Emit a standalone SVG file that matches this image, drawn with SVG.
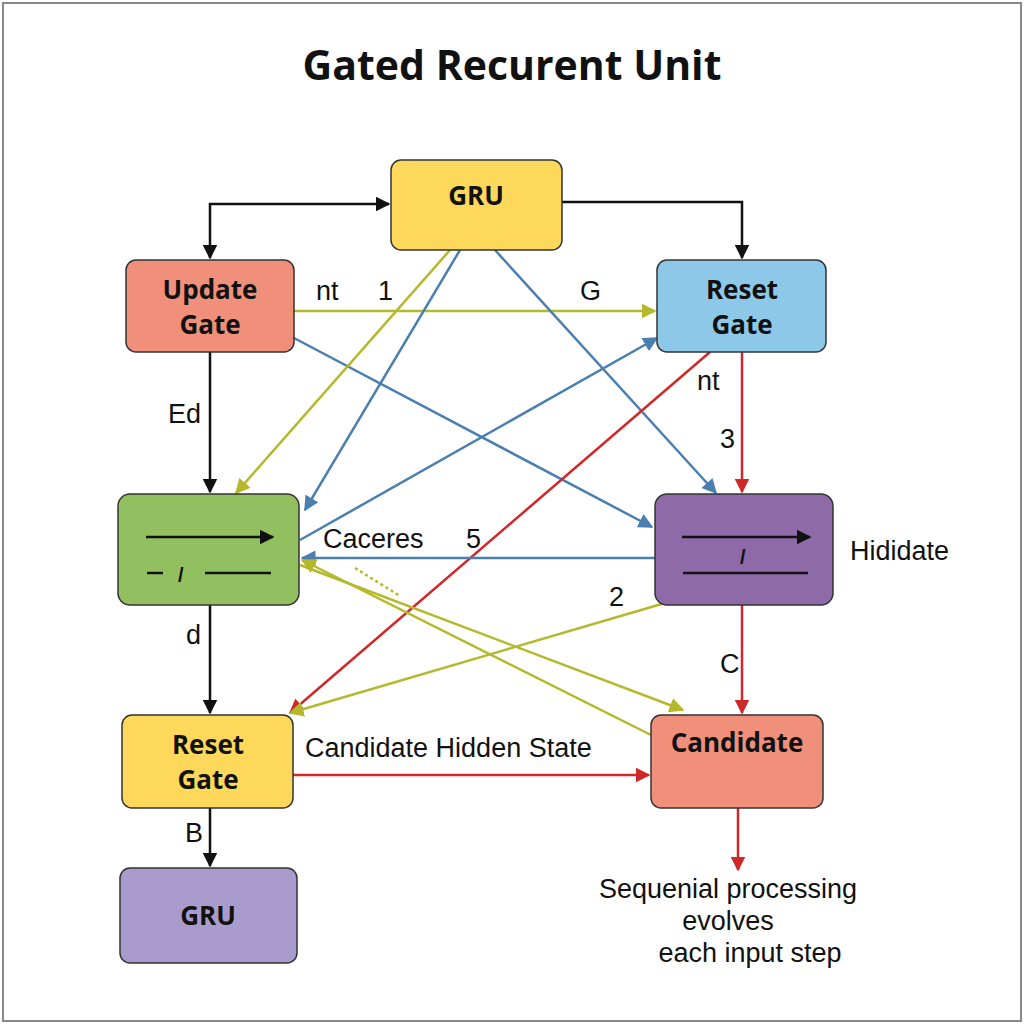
<svg xmlns="http://www.w3.org/2000/svg" width="1024" height="1024" viewBox="0 0 1024 1024">
<style>
.n{stroke:#333;stroke-width:1.5}
.t{font-family:"Open Sans","Liberation Sans",sans-serif;font-weight:bold;font-size:26px;text-anchor:middle;fill:#111}
.l{font-family:"Liberation Sans","Open Sans",sans-serif;font-size:27px;fill:#111}
.k{stroke:#111;stroke-width:2.5;fill:none}
.y{stroke:#B5B82A;stroke-width:2.5;fill:none}
.b{stroke:#4A7FB0;stroke-width:2.5;fill:none}
.r{stroke:#D02828;stroke-width:2.5;fill:none}
</style>
<defs>
<marker id="ak" viewBox="0 0 10 10" refX="9" refY="5" markerWidth="6" markerHeight="6" orient="auto-start-reverse"><path d="M0,0L10,5L0,10z" fill="#111"/></marker>
<marker id="ay" viewBox="0 0 10 10" refX="9" refY="5" markerWidth="6" markerHeight="6" orient="auto-start-reverse"><path d="M0,0L10,5L0,10z" fill="#B5B82A"/></marker>
<marker id="ab" viewBox="0 0 10 10" refX="9" refY="5" markerWidth="6" markerHeight="6" orient="auto-start-reverse"><path d="M0,0L10,5L0,10z" fill="#4A7FB0"/></marker>
<marker id="ar" viewBox="0 0 10 10" refX="9" refY="5" markerWidth="6" markerHeight="6" orient="auto-start-reverse"><path d="M0,0L10,5L0,10z" fill="#D02828"/></marker>
</defs>
<rect x="0" y="0" width="1024" height="1024" fill="#fff"/>
<rect x="3" y="3" width="1018" height="1018" fill="none" stroke="#888" stroke-width="2"/>
<text x="512" y="80" class="t" style="font-size:41px">Gated Recurent Unit</text>
<g id="connectors">
<polyline class="k" points="210,258 210,204 389,204" marker-start="url(#ak)" marker-end="url(#ak)"/>
<polyline class="k" points="562,202 742,202 742,258" marker-end="url(#ak)"/>
<line class="k" x1="210" y1="352" x2="210" y2="492" marker-end="url(#ak)"/>
<line class="k" x1="210" y1="605" x2="210" y2="713" marker-end="url(#ak)"/>
<line class="k" x1="210" y1="808" x2="210" y2="866" marker-end="url(#ak)"/>
<line class="y" x1="294" y1="311" x2="655" y2="311" marker-end="url(#ay)"/>
<line class="b" x1="294" y1="338" x2="652" y2="527" marker-end="url(#ab)"/>
<line class="y" x1="450" y1="250" x2="236" y2="493" marker-end="url(#ay)"/>
<line class="b" x1="460" y1="250" x2="305" y2="510" marker-end="url(#ab)"/>
<line class="b" x1="495" y1="250" x2="716" y2="493" marker-end="url(#ab)"/>
<line class="b" x1="300" y1="540" x2="657" y2="338" marker-end="url(#ab)"/>
<line class="r" x1="742" y1="352" x2="742" y2="492" marker-end="url(#ar)"/>
<line class="r" x1="710" y1="352" x2="290" y2="713" marker-end="url(#ar)"/>
<line class="b" x1="655" y1="558" x2="302" y2="558" marker-end="url(#ab)"/>
<line class="y" x1="665" y1="603" x2="290" y2="713" marker-end="url(#ay)"/>
<line class="y" x1="300" y1="565" x2="683" y2="710" marker-end="url(#ay)"/>
<line class="y" x1="651" y1="735" x2="302" y2="560" marker-end="url(#ay)"/>
<line class="y" x1="355" y1="568" x2="400" y2="596" stroke-dasharray="3,3" stroke-width="1.5"/>
<line class="r" x1="742" y1="605" x2="742" y2="713" marker-end="url(#ar)"/>
<line class="r" x1="293" y1="775" x2="649" y2="775" marker-end="url(#ar)"/>
<line class="r" x1="738" y1="808" x2="738" y2="870" marker-end="url(#ar)"/>
<text class="l" x="316" y="300">nt</text><text class="l" x="378" y="300">1</text><text class="l" x="580" y="300">G</text>
<text class="l" x="168" y="423">Ed</text><text class="l" x="186" y="644">d</text><text class="l" x="185" y="842">B</text>
<text class="l" x="697" y="390">nt</text><text class="l" x="720" y="448">3</text>
<text class="l" x="323" y="548">Caceres</text><text class="l" x="466" y="548">5</text>
<text class="l" x="609" y="606">2</text><text class="l" x="720" y="673">C</text>
<text class="l" x="305" y="757">Candidate Hidden State</text>
<text class="l" x="850" y="560">Hididate</text>
<text class="l" x="728" y="898" text-anchor="middle">Sequenial processing</text>
<text class="l" x="728" y="930" text-anchor="middle">evolves</text>
<text class="l" x="750" y="962" text-anchor="middle">each input step</text>
</g>
<g id="gru-top"><rect class="n" x="391" y="160" width="171" height="90" rx="10" fill="#FDD85A"/><text class="t" x="476" y="205">GRU</text></g>
<g id="update-gate"><rect class="n" x="126" y="260" width="168" height="92" rx="10" fill="#F0907A"/><text class="t" x="210" y="299">Update</text><text class="t" x="210" y="334">Gate</text></g>
<g id="reset-gate-top"><rect class="n" x="657" y="260" width="169" height="92" rx="10" fill="#8DC8E8"/><text class="t" x="742" y="299">Reset</text><text class="t" x="742" y="334">Gate</text></g>
<g id="green"><rect class="n" x="118" y="494" width="181" height="111" rx="12" fill="#92C060"/>
<line class="k" x1="146" y1="537" x2="273" y2="537" marker-end="url(#ak)" stroke-width="2"/>
<line class="k" x1="147" y1="573" x2="163" y2="573" stroke-width="2"/><text class="l" x="178" y="582" style="font-size:20px;font-weight:bold">/</text>
<line class="k" x1="205" y1="573" x2="271" y2="573" stroke-width="2"/></g>
<g id="purple"><rect class="n" x="655" y="494" width="178" height="111" rx="12" fill="#8E6AA8"/>
<line class="k" x1="682" y1="537" x2="810" y2="537" marker-end="url(#ak)" stroke-width="2"/>
<text class="l" x="740" y="564" style="font-size:20px;font-weight:bold">/</text>
<line class="k" x1="683" y1="573" x2="808" y2="573" stroke-width="2"/></g>
<g id="reset-gate"><rect class="n" x="122" y="715" width="171" height="93" rx="10" fill="#FDD85A"/><text class="t" x="208" y="754">Reset</text><text class="t" x="208" y="789">Gate</text></g>
<g id="candidate"><rect class="n" x="651" y="715" width="172" height="93" rx="10" fill="#F0907A"/><text class="t" x="737" y="752">Candidate</text></g>
<g id="gru-bottom"><rect class="n" x="120" y="868" width="177" height="95" rx="10" fill="#A99BCB"/><text class="t" x="208" y="925">GRU</text></g>
</svg>
